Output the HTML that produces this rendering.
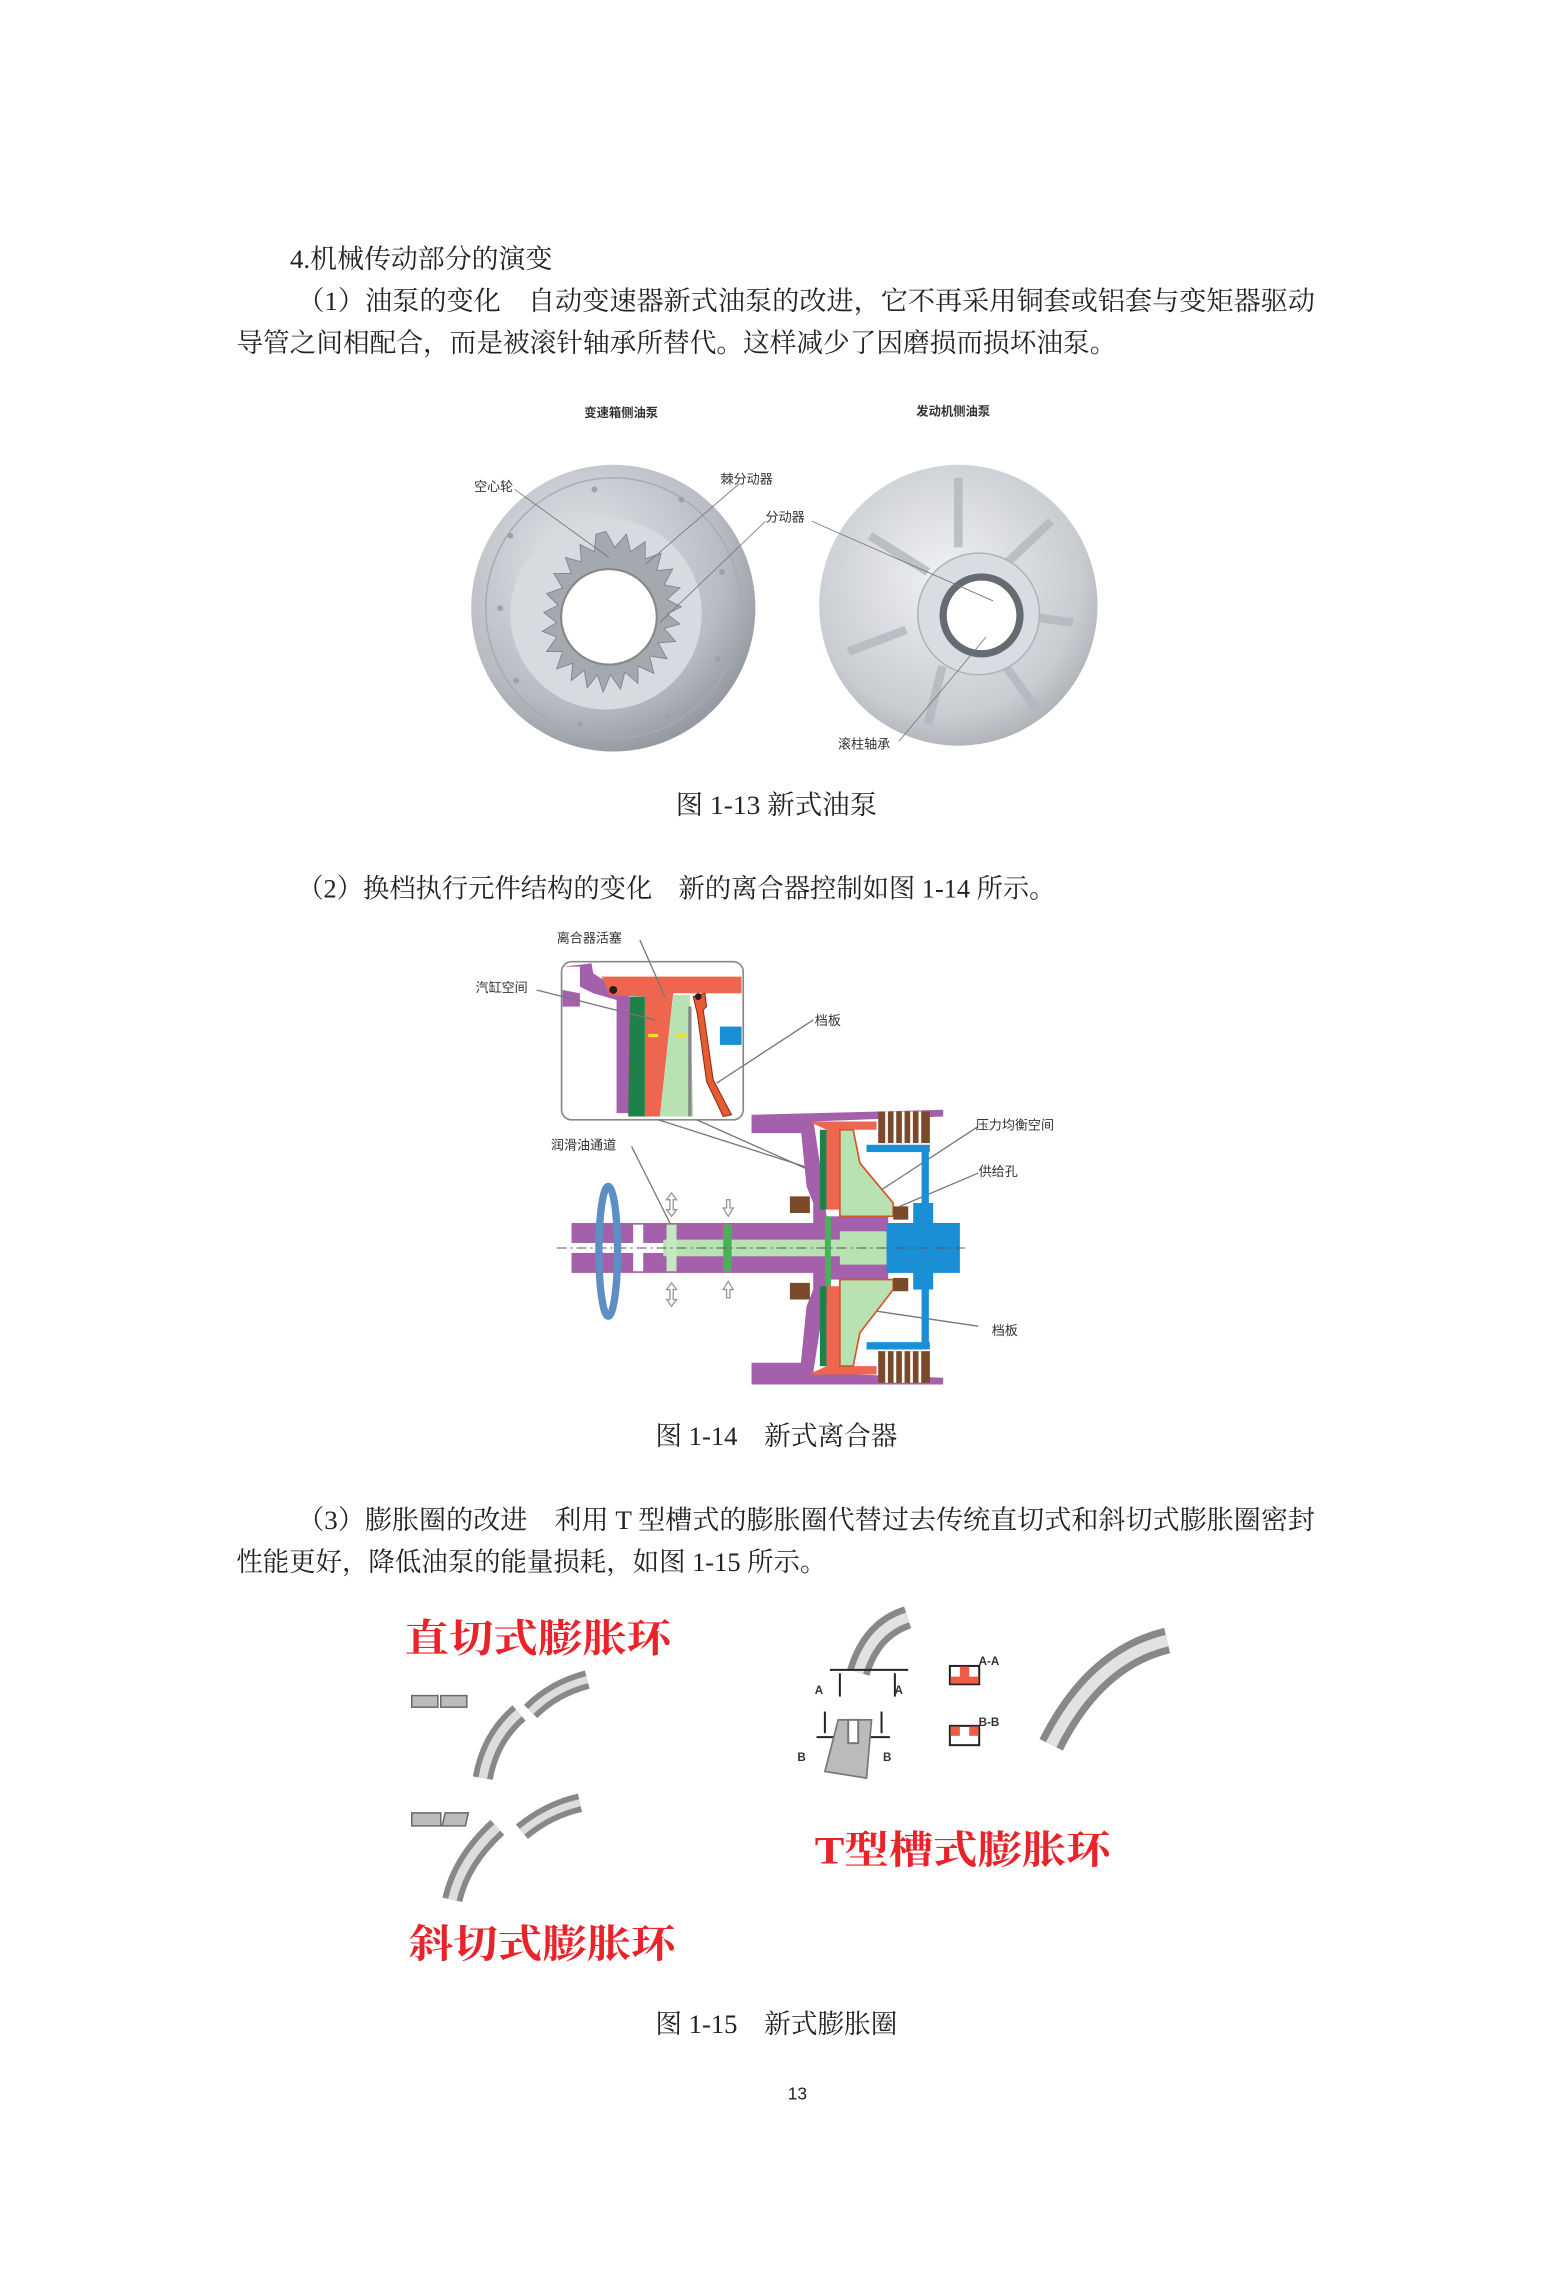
<!DOCTYPE html>
<html><head><meta charset="utf-8"><style>
html,body{margin:0;padding:0;background:#fff}
svg{display:block}
.t{font-family:"Liberation Serif","Noto Serif CJK SC",serif;font-size:18.5px;fill:#222}
.s{font-family:"Liberation Sans","Noto Sans CJK SC",sans-serif;font-size:9px;fill:#333}
.r{font-family:"Liberation Serif","Noto Serif CJK SC",serif;font-size:27px;font-weight:bold;fill:#e8232a}
</style></head><body>
<svg width="1547" height="2269" viewBox="0 0 1067 1567" preserveAspectRatio="none" xmlns="http://www.w3.org/2000/svg">
<defs>
<radialGradient id="g1" cx="0.4" cy="0.35" r="0.7"><stop offset="0" stop-color="#e4e6ea"/><stop offset="0.7" stop-color="#b8bcc2"/><stop offset="1" stop-color="#8f949b"/></radialGradient>
<radialGradient id="g2" cx="0.45" cy="0.4" r="0.7"><stop offset="0" stop-color="#f0f1f3"/><stop offset="0.7" stop-color="#c9ccd0"/><stop offset="1" stop-color="#9da2a8"/></radialGradient>
</defs>

<text class="t" x="200" y="185" textLength="181" lengthAdjust="spacingAndGlyphs">4.机械传动部分的演变</text>
<text class="t" x="205" y="214" textLength="702" lengthAdjust="spacingAndGlyphs">（1）油泵的变化　自动变速器新式油泵的改进，它不再采用铜套或铝套与变矩器驱动</text>
<text class="t" x="163" y="243" textLength="607" lengthAdjust="spacingAndGlyphs">导管之间相配合，而是被滚针轴承所替代。这样减少了因磨损而损坏油泵。</text>

<text class="s" x="403" y="288" font-weight="bold" style="font-size:8.5px">变速箱侧油泵</text>
<text class="s" x="632" y="287" font-weight="bold" style="font-size:8.5px">发动机侧油泵</text>
<ellipse cx="423" cy="420" rx="98" ry="99" fill="url(#g1)"/>
<ellipse cx="423" cy="420" rx="88" ry="90" fill="none" stroke="#a7abb1" stroke-width="1"/>
<circle cx="418" cy="424" r="66" fill="#d7dade"/>
<g fill="#a4a9b0" stroke="#7d838b" stroke-width="0.6">
<polygon points="418,367 424,378 432,369 435,381 445,374 445,386 456,382 453,394 464,393 458,404 469,406 460,414 470,419 460,424 469,431 458,434 466,443 454,444 460,455 448,453 451,465 440,460 440,472 431,464 428,476 421,466 416,478 412,466 405,475 403,463 394,470 395,458 384,462 388,450 377,450 384,440 374,436 384,430 375,423 385,418 377,410 388,406 382,396 394,396 390,385 401,388 400,376 410,381 411,369"/>
</g>
<circle cx="420" cy="426" r="33" fill="#fff" stroke="#888" stroke-width="1.5"/>
<g fill="#9ca1a8"><circle cx="352" cy="370" r="2"/><circle cx="345" cy="420" r="2"/><circle cx="356" cy="470" r="2"/><circle cx="400" cy="500" r="2"/><circle cx="460" cy="495" r="2"/><circle cx="495" cy="455" r="2"/><circle cx="498" cy="395" r="2"/><circle cx="470" cy="345" r="2"/><circle cx="410" cy="338" r="2"/></g>
<ellipse cx="661" cy="418" rx="96" ry="97" fill="url(#g2)"/>
<g fill="none" stroke="#b3b7bd" stroke-width="6" opacity="0.8">
<path d="M600,370 L640,395"/><path d="M661,330 L661,378"/><path d="M725,360 L690,393"/><path d="M740,430 L705,425"/><path d="M715,490 L690,455"/><path d="M640,500 L650,460"/><path d="M585,450 L625,435"/></g>
<circle cx="675" cy="424" r="42" fill="#d9dce0" stroke="#aeb2b8"/>
<circle cx="677" cy="425" r="29" fill="#666b72"/>
<circle cx="677" cy="425" r="24" fill="#fff"/>
<g stroke="#777" stroke-width="0.6" fill="none">
<line x1="355" y1="338" x2="420" y2="385"/><line x1="510" y1="334" x2="445" y2="390"/><line x1="528" y1="360" x2="455" y2="430"/><line x1="560" y1="360" x2="685" y2="415"/><line x1="620" y1="512" x2="680" y2="440"/></g>
<text class="s" x="327" y="339">空心轮</text>
<text class="s" x="497" y="334">棘分动器</text>
<text class="s" x="528" y="360">分动器</text>
<text class="s" x="578" y="517">滚柱轴承</text>
<text class="t" x="466" y="562" textLength="139" lengthAdjust="spacingAndGlyphs">图 1-13  新式油泵</text>

<text class="t" x="205" y="620" textLength="523" lengthAdjust="spacingAndGlyphs">（2）换档执行元件结构的变化　新的离合器控制如图 1-14 所示。</text>

<g transform="translate(317.2,642.3) scale(0.2299)">
<rect x="305" y="95" width="545" height="475" rx="30" fill="#fff" stroke="#888" stroke-width="5"/>
<path d="M308,110 L360,110 L360,170 L400,190 L470,210 L470,550 L510,550 L510,200 L400,130 L395,100 Z" fill="#a560ab"/>
<path d="M308,180 L360,190 L360,230 L308,230 Z" fill="#a560ab"/>
<path d="M425,140 L845,140 L845,190 L640,190 L600,560 L555,560 L555,200 L450,195 Z" fill="#ee6650"/>
<circle cx="460" cy="180" r="12" fill="#222"/>
<path d="M510,200 L555,200 L555,560 L505,560 Z" fill="#20804a"/>
<path d="M640,195 L690,195 L700,560 L600,560 Z" fill="#b9e2b3"/>
<rect x="685" y="230" width="10" height="330" fill="#888"/>
<path d="M700,200 L735,190 L740,230 L730,240 L760,450 L815,555 L790,560 L740,455 L712,250 Z" fill="#e65a34" stroke="#8a2a10" stroke-width="3"/>
<circle cx="715" cy="200" r="10" fill="#222"/>
<rect x="780" y="290" width="65" height="55" fill="#1b8fd6"/>
<rect x="565" y="312" width="30" height="10" fill="#e8e030"/><rect x="650" y="312" width="30" height="10" fill="#e8e030"/>
<g stroke="#777" stroke-width="4" fill="none">
<line x1="595" y1="570" x2="1080" y2="725"/><line x1="710" y1="570" x2="1080" y2="735"/>
<line x1="540" y1="30" x2="615" y2="200"/><line x1="230" y1="180" x2="585" y2="270"/><line x1="1060" y1="270" x2="770" y2="460"/>
<line x1="515" y1="650" x2="630" y2="880"/>
<line x1="1555" y1="590" x2="1250" y2="790"/><line x1="1555" y1="730" x2="1320" y2="830"/><line x1="1555" y1="1190" x2="1250" y2="1145"/>
</g>
<path d="M875,555 L1450,540 L1450,560 L1060,575 L1030,600 L1030,610 L875,610 Z" fill="#a560ab"/>
<path d="M875,1300 L1030,1300 L1060,1330 L1450,1345 L1450,1365 L875,1365 Z" fill="#a560ab"/>
<path d="M1020,570 L1060,570 L1080,700 L1100,860 L1100,1080 L1080,1200 L1060,1330 L1020,1330 L1040,1130 L1060,1080 L1060,820 L1040,770 Z" fill="#a560ab"/>
<rect x="335" y="880" width="760" height="150" fill="#a560ab"/>
<rect x="1095" y="860" width="190" height="190" fill="#a560ab"/>
<rect x="300" y="940" width="800" height="30" fill="#fff"/>
<rect x="610" y="930" width="540" height="50" fill="#b9e2b3"/>
<rect x="1140" y="905" width="140" height="100" fill="#b9e2b3"/>
<rect x="520" y="885" width="30" height="140" fill="#fff"/>
<rect x="620" y="885" width="30" height="140" fill="#c4e8c0"/>
<rect x="790" y="885" width="25" height="140" fill="#4caf5a"/>
<rect x="1095" y="860" width="18" height="260" fill="#4caf5a"/>
<path d="M1045,575 L1250,575 L1250,600 L1140,600 L1140,840 L1100,840 L1100,600 Z" fill="#ee6650"/>
<path d="M1045,1335 L1250,1335 L1250,1310 L1140,1310 L1140,1070 L1100,1070 L1100,1310 Z" fill="#ee6650"/>
<path d="M1140,600 L1180,600 L1200,700 L1300,820 L1300,860 L1140,860 Z" fill="#b9e2b3" stroke="#d4542c" stroke-width="5"/>
<path d="M1140,1310 L1180,1310 L1200,1210 L1300,1080 L1300,1050 L1140,1050 Z" fill="#b9e2b3" stroke="#d4542c" stroke-width="5"/>
<rect x="1080" y="600" width="20" height="240" fill="#20804a"/>
<rect x="1080" y="1070" width="20" height="240" fill="#20804a"/>
<g fill="#7b4a2b"><rect x="1255" y="545" width="155" height="95"/><rect x="1255" y="1265" width="155" height="95"/></g>
<g stroke="#fff" stroke-width="8"><line x1="1280" y1="545" x2="1280" y2="640"/><line x1="1305" y1="545" x2="1305" y2="640"/><line x1="1330" y1="545" x2="1330" y2="640"/><line x1="1355" y1="545" x2="1355" y2="640"/><line x1="1380" y1="545" x2="1380" y2="640"/>
<line x1="1280" y1="1265" x2="1280" y2="1360"/><line x1="1305" y1="1265" x2="1305" y2="1360"/><line x1="1330" y1="1265" x2="1330" y2="1360"/><line x1="1355" y1="1265" x2="1355" y2="1360"/><line x1="1380" y1="1265" x2="1380" y2="1360"/></g>
<g fill="#1b8fd6">
<rect x="1220" y="645" width="190" height="22"/><rect x="1220" y="1238" width="190" height="22"/>
<rect x="1385" y="650" width="22" height="610"/>
<rect x="1280" y="880" width="220" height="150"/>
<rect x="1360" y="820" width="60" height="260"/>
</g>
<rect x="1300" y="830" width="45" height="40" fill="#7b4a2b"/><rect x="1300" y="1045" width="45" height="40" fill="#7b4a2b"/>
<path d="M990,800 L1050,800 L1050,850 L990,850 Z" fill="#7b4a2b"/><path d="M990,1060 L1050,1060 L1050,1110 L990,1110 Z" fill="#7b4a2b"/>
<line x1="290" y1="955" x2="1515" y2="955" stroke="#555" stroke-width="3" stroke-dasharray="30,12,6,12"/>
<ellipse cx="445" cy="965" rx="28" ry="195" fill="none" stroke="#5d8fc4" stroke-width="22"/>
<g fill="#fff" stroke="#999" stroke-width="4">
<path d="M635,790 L620,810 L630,810 L630,840 L620,840 L635,860 L650,840 L640,840 L640,810 L650,810 Z"/>
<path d="M635,1060 L620,1080 L630,1080 L630,1110 L620,1110 L635,1130 L650,1110 L640,1110 L640,1080 L650,1080 Z"/>
<path d="M800,810 L810,810 L810,835 L820,835 L805,860 L790,835 L800,835 Z"/>
<path d="M800,1105 L810,1105 L810,1080 L820,1080 L805,1055 L790,1080 L800,1080 Z"/>
</g>
</g>
<text class="s" x="384" y="651">离合器活塞</text>
<text class="s" x="328" y="685">汽缸空间</text>
<text class="s" x="562" y="708">档板</text>
<text class="s" x="673" y="780">压力均衡空间</text>
<text class="s" x="380" y="794">润滑油通道</text>
<text class="s" x="675" y="812">供给孔</text>
<text class="s" x="684" y="922">档板</text>
<text class="t" x="452" y="998" textLength="167" lengthAdjust="spacingAndGlyphs">图 1-14　新式离合器</text>

<text class="t" x="205" y="1056" textLength="702" lengthAdjust="spacingAndGlyphs">（3）膨胀圈的改进　利用 T 型槽式的膨胀圈代替过去传统直切式和斜切式膨胀圈密封</text>
<text class="t" x="163" y="1085" textLength="407" lengthAdjust="spacingAndGlyphs">性能更好，降低油泵的能量损耗，如图 1-15 所示。</text>

<text class="r" x="279" y="1141" textLength="184" lengthAdjust="spacingAndGlyphs">直切式膨胀环</text>
<text class="r" x="282" y="1352" textLength="184" lengthAdjust="spacingAndGlyphs">斜切式膨胀环</text>
<text class="r" x="562" y="1287" textLength="204" lengthAdjust="spacingAndGlyphs">T型槽式膨胀环</text>
<g fill="#bbb" stroke="#666" stroke-width="1"><rect x="284" y="1171" width="18" height="8"/><rect x="304" y="1171" width="18" height="8"/>
<rect x="284" y="1252" width="20" height="9"/><path d="M307,1252 L323,1252 L321,1261 L305,1261 Z"/></g>
<g fill="none" stroke-linecap="butt">
<path d="M333,1228 Q338,1200 358,1183" stroke="#888" stroke-width="14"/><path d="M333,1228 Q338,1200 358,1183" stroke="#ddd" stroke-width="6"/>
<path d="M366,1182 Q382,1166 405,1160" stroke="#888" stroke-width="13"/><path d="M366,1182 Q382,1166 405,1160" stroke="#ddd" stroke-width="5"/>
<path d="M312,1312 Q318,1285 343,1262" stroke="#888" stroke-width="14"/><path d="M312,1312 Q318,1285 343,1262" stroke="#ddd" stroke-width="6"/>
<path d="M360,1265 Q378,1250 400,1245" stroke="#888" stroke-width="13"/><path d="M360,1265 Q378,1250 400,1245" stroke="#ddd" stroke-width="5"/>
<path d="M725,1205 Q755,1145 805,1133" stroke="#888" stroke-width="18"/><path d="M725,1205 Q755,1145 805,1133" stroke="#e2e2e2" stroke-width="8"/>
<path d="M592,1155 Q601,1125 626,1117" stroke="#888" stroke-width="16"/><path d="M592,1155 Q601,1125 626,1117" stroke="#e2e2e2" stroke-width="7"/>
</g>
<g transform="translate(537.9,1098.1) scale(0.2299)" stroke="#222" stroke-width="6" fill="none">
<line x1="150" y1="240" x2="385" y2="240"/><line x1="180" y1="250" x2="180" y2="320"/><line x1="345" y1="250" x2="345" y2="320"/>
<line x1="110" y1="442" x2="330" y2="442"/><line x1="135" y1="365" x2="135" y2="430"/><line x1="305" y1="365" x2="305" y2="430"/>
<path d="M175,390 L275,390 L260,565 L135,545 Z" fill="#bbb" stroke="#777" stroke-width="5"/>
<rect x="205" y="390" width="30" height="70" fill="#fff" stroke="#777"/>
<rect x="510" y="228" width="88" height="55" fill="#fff"/><path d="M512,260 L540,260 L540,230 L568,230 L568,260 L596,260 L596,281 L512,281 Z" fill="#ec5d45" stroke="none"/>
<rect x="510" y="408" width="88" height="58" fill="#fff"/><rect x="512" y="410" width="28" height="28" fill="#ec5d45" stroke="none"/><rect x="568" y="410" width="28" height="28" fill="#ec5d45" stroke="none"/>
</g>
<g class="s" style="font-size:8px;font-weight:bold"><text x="562" y="1170">A</text><text x="617" y="1170">A</text><text x="550" y="1216">B</text><text x="609" y="1216">B</text><text x="675" y="1150">A-A</text><text x="675" y="1192">B-B</text></g>
<text class="t" x="452" y="1404" textLength="167" lengthAdjust="spacingAndGlyphs">图 1-15　新式膨胀圈</text>
<text x="550" y="1450" text-anchor="middle" style="font-family:'Liberation Sans',sans-serif;font-size:12px;fill:#222">13</text>
</svg>
</body></html>
